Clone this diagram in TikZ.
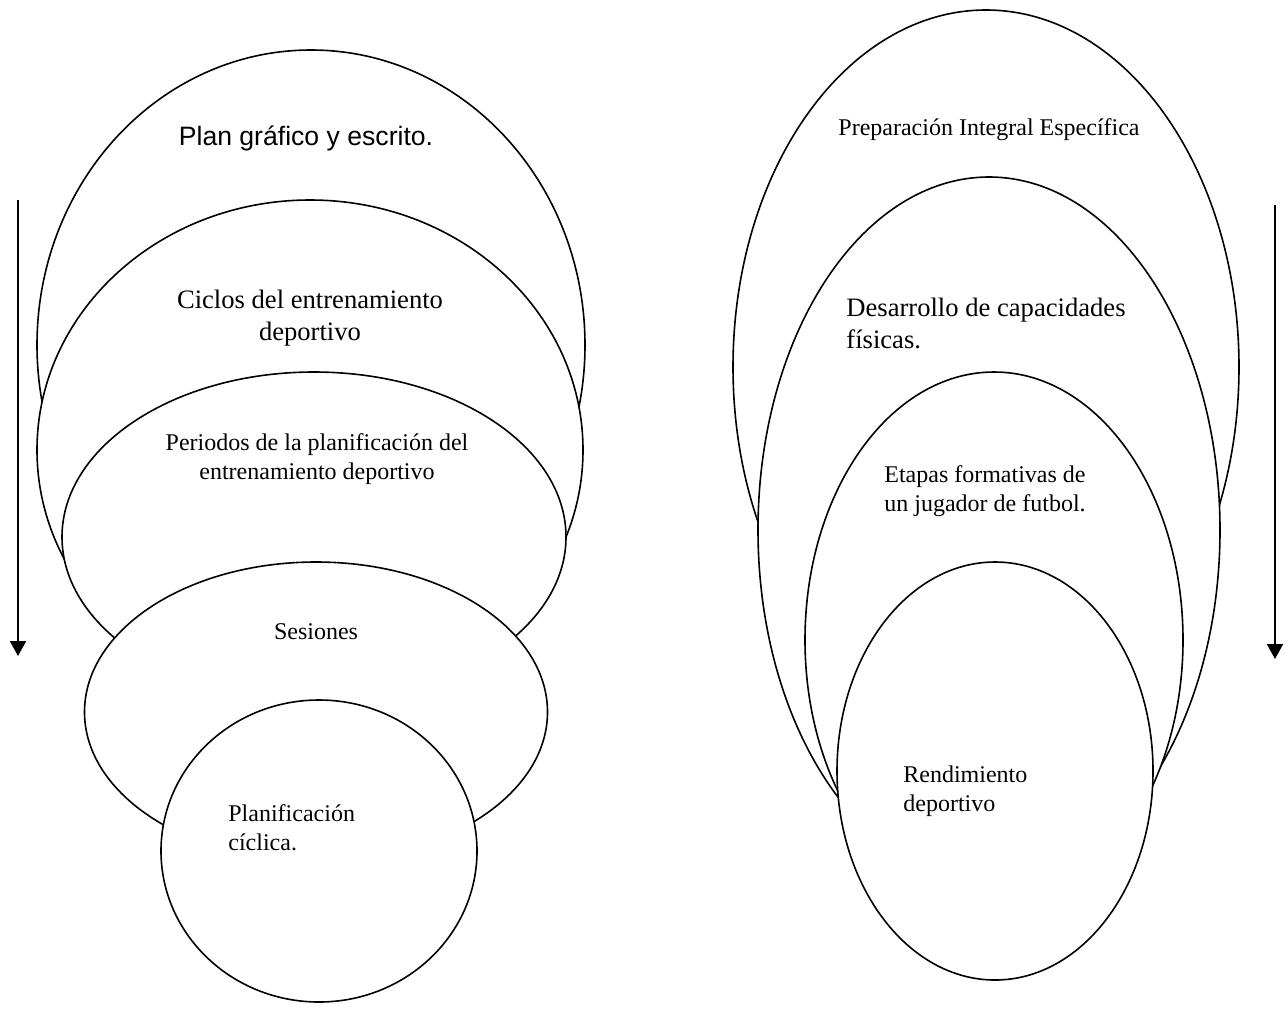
\documentclass[tikz,border=0pt]{standalone}
\usepackage{fontspec}
\setmainfont{Liberation Serif}
\newfontfamily\arialf{Liberation Sans}
\usetikzlibrary{shapes.geometric,arrows.meta}
\begin{document}
\begin{tikzpicture}[x=0.5pt,y=-0.5pt,
  ell/.style={ellipse,draw,fill=white,line width=0.8pt,inner sep=0pt,outer sep=0pt},
  lbl/.style={inner sep=0pt,font=\fontsize{12}{14.5}\selectfont},
  biglbl/.style={inner sep=0pt,font=\fontsize{13.3}{16}\selectfont},
  flow/.style={line width=1pt,-{Triangle[length=7.5pt,width=8pt]}}]
\useasboundingbox (0,0) rectangle (1285,1008);
% left column
\node[ell,minimum width=274pt,minimum height=295pt] (e1) at (311,345) {};
\node[ell,minimum width=273pt,minimum height=250pt] (e2) at (310,450) {};
\node[ell,minimum width=252pt,minimum height=165pt] (e3) at (314,537) {};
\node[ell,minimum width=231.5pt,minimum height=150pt] (e4) at (316,712) {};
\node[ell,minimum width=158pt,minimum height=151pt] (e5) at (319,851) {};
% right column
\node[ell,minimum width=253pt,minimum height=357pt] (r1) at (986,367) {};
\node[ell,minimum width=231pt,minimum height=353pt] (r2) at (989,530) {};
\node[ell,minimum width=189pt,minimum height=268pt] (r3) at (994,640) {};
\node[ell,minimum width=158pt,minimum height=209pt] (r4) at (995,771) {};
% labels
\node[inner sep=0pt,font=\arialf\fontsize{13.3}{16}\selectfont,anchor=base] (t1) at (306,145) {Plan gráfico y escrito.};
\node[biglbl,align=center] (t2) at (310,318) {Ciclos del entrenamiento\\deportivo};
\node[lbl,align=center] (t3) at (317,459) {Periodos de la planificación del\\entrenamiento deportivo};
\node[lbl] (t4) at (316,632) {Sesiones};
\node[lbl,align=left,anchor=west] (t5) at (228,828) {Planificación\\cíclica.};
\node[lbl] (t6) at (989,130) {Preparación Integral Específica};
\node[biglbl,align=left,anchor=west] (t7) at (846,323) {Desarrollo de capacidades\\físicas.};
\node[lbl,align=center] (t8) at (985,491) {Etapas formativas de\\un jugador de futbol.};
\node[lbl,align=left,anchor=west] (t9) at (903,791) {Rendimiento\\deportivo};
% arrows
\coordinate (la) at (18,200);
\coordinate (lb) at (18,656);
\coordinate (ra) at (1275,205);
\coordinate (rb) at (1275,659);
\draw[flow] (la) -- (lb);
\draw[flow] (ra) -- (rb);
\end{tikzpicture}
\end{document}
